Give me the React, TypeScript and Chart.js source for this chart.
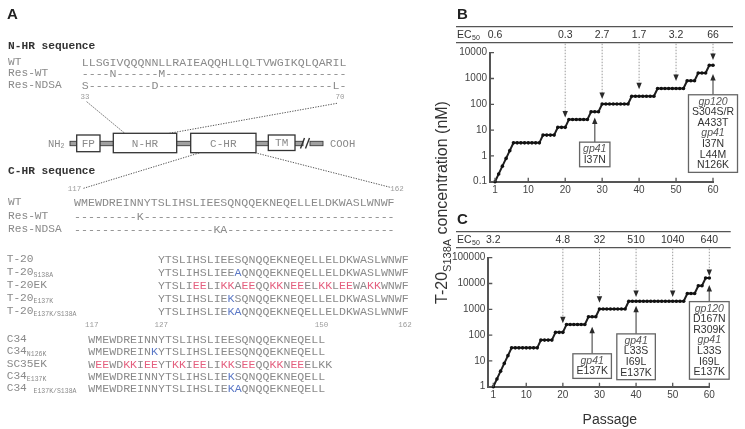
import React, { useEffect, useRef } from 'react';
import { Chart, registerables } from 'chart.js';

Chart.register(...registerables);

// ---------- data ----------
const passages = [
  1, 2, 3, 4, 5, 6, 7, 8, 9, 10, 11, 12, 13, 14, 15, 16, 17, 18, 19, 20,
  21, 22, 23, 24, 25, 26, 27, 28, 29, 30, 31, 32, 33, 34, 35, 36, 37, 38, 39, 40,
  41, 42, 43, 44, 45, 46, 47, 48, 49, 50, 51, 52, 53, 54, 55, 56, 57, 58, 59, 60,
];
const concB = [
  0.1, 0.2, 0.4, 0.8, 1.6, 3.2, 3.2, 3.2, 3.2, 3.2, 3.2, 3.2, 3.2, 6.4, 6.4, 6.4, 6.4, 12.8, 12.8, 12.8,
  25.6, 25.6, 25.6, 25.6, 25.6, 25.6, 51.2, 51.2, 51.2, 102.4, 102.4, 102.4, 102.4, 102.4, 102.4, 102.4, 102.4, 204.8, 204.8, 204.8,
  204.8, 204.8, 204.8, 204.8, 409.6, 409.6, 409.6, 409.6, 409.6, 409.6, 409.6, 409.6, 819.2, 819.2, 819.2, 1638.4, 1638.4, 1638.4, 3276.8, 3276.8,
];
const concC = [
  1, 2, 4, 8, 16, 32, 32, 32, 32, 32, 32, 32, 32, 64, 64, 64, 64, 128, 128, 128,
  256, 256, 256, 256, 256, 256, 512, 512, 512, 1024, 1024, 1024, 1024, 1024, 1024, 1024, 1024, 2048, 2048, 2048,
  2048, 2048, 2048, 2048, 2048, 2048, 2048, 2048, 2048, 2048, 2048, 2048, 2048, 4096, 4096, 4096, 8192, 8192, 16384, 16384,
];
const xTickValues = [1, 10, 20, 30, 40, 50, 60];
const yTicksB = [0.1, 1, 10, 100, 1000, 10000];
const yTicksC = [1, 10, 100, 1000, 10000, 100000];

const ecPassages = [1, 20, 30, 40, 50, 60];
const ecB = ['0.6', '0.3', '2.7', '1.7', '3.2', '66'];
const ecC = ['3.2', '4.8', '32', '510', '1040', '640'];
const ecArrowPassages = [20, 30, 40, 50, 60];
const ecArrowTipB = [31, 160, 380, 800, 5200];
const ecArrowTipC = [286, 1800, 3000, 3000, 19500];

const mutPassagesB = [28, 60];
const mutTipB = [31, 1490];
const mutBaseB = [0.38, 0.23];
const mutLinesB = [
  ['gp41', 'I37N'],
  ['gp120', 'S304S/R', 'A433T', 'gp41', 'I37N', 'L44M', 'N126K'],
];
const mutPassagesC = [28, 40, 60];
const mutTipC = [212, 1380, 8750];
const mutBaseC = [2.1, 1.87, 1.95];
const mutLinesC = [
  ['gp41', 'E137K'],
  ['gp41', 'L33S', 'I69L', 'E137K'],
  ['gp120', 'D167N', 'R309K', 'gp41', 'L33S', 'I69L', 'E137K'],
];
const italicLabels = ['gp41', 'gp120'];

// panel A sequences
const nhrLabels = ['WT', 'Res-WT', 'Res-NDSA'];
const nhrSeqs = [
  'LLSGIVQQQNNLLRAIEAQQHLLQLTVWGIKQLQARIL',
  '----N------M--------------------------',
  'S---------D-------------------------L-',
];
const chrLabels = ['WT', 'Res-WT', 'Res-NDSA'];
const chrSeqs = [
  'WMEWDREINNYTSLIHSLIEESQNQQEKNEQELLELDKWASLWNWF',
  '---------K------------------------------------',
  '--------------------KA------------------------',
];
const t20Labels = [['T-20', ''], ['T-20', 'S138A'], ['T-20EK', ''], ['T-20', 'E137K'], ['T-20', 'E137K/S138A']];
const t20Seqs = [
  'YTSLIHSLIEESQNQQEKNEQELLELDKWASLWNWF',
  'YTSLIHSLIEEAQNQQEKNEQELLELDKWASLWNWF',
  'YTSLIEELIKKAEEQQKKNEEELKKLEEWAKKWNWF',
  'YTSLIHSLIEKSQNQQEKNEQELLELDKWASLWNWF',
  'YTSLIHSLIEKAQNQQEKNEQELLELDKWASLWNWF',
];
const t20Red = [[], [], [5, 6, 9, 10, 12, 13, 16, 17, 19, 20, 23, 24, 26, 27, 30, 31], [], []];
const t20Blue = [[], [11], [], [10], [10, 11]];
const c34Labels = [['C34', ''], ['C34', 'N126K'], ['SC35EK', ''], ['C34', 'E137K'], ['C34 ', 'E137K/S138A']];
const c34Seqs = [
  'WMEWDREINNYTSLIHSLIEESQNQQEKNEQELL',
  'WMEWDREINKYTSLIHSLIEESQNQQEKNEQELL',
  'WEEWDKKIEEYTKKIEELIKKSEEQQKKNEEELKK',
  'WMEWDREINNYTSLIHSLIEKSQNQQEKNEQELL',
  'WMEWDREINNYTSLIHSLIEKAQNQQEKNEQELL',
];
const c34Red = [[], [], [1, 2, 5, 6, 8, 9, 12, 13, 15, 16, 19, 20, 22, 23, 26, 27, 29, 30], [], []];
const c34Blue = [[], [9], [], [20], [20, 21]];
const residueMarks = [117, 127, 150, 162];

// ---------- styles ----------
const SANS = '"Liberation Sans", Arial, sans-serif';
const MONO = '"Liberation Mono", "Courier New", monospace';
const SEQ_GRAY = '#8a8a8a';
const NUM_GRAY = '#9c9c9c';
const RED = '#e4607f';
const BLUE = '#5b78c6';
const CW = 6.96;

function makeAnnot(p: any) {
  return {
    id: 'annot' + p.name,
    afterDraw(chart: any) {
      const { ctx, chartArea: a, scales } = chart;
      const x = scales.x;
      const y = scales.y;
      const head = (px: number, ty: number, dir: number) => {
        ctx.fillStyle = '#2a2a2a';
        ctx.beginPath();
        ctx.moveTo(px, ty);
        ctx.lineTo(px - 2.7, ty - dir * 6.5);
        ctx.lineTo(px + 2.7, ty - dir * 6.5);
        ctx.closePath();
        ctx.fill();
      };
      ctx.save();
      // inner tick marks
      ctx.strokeStyle = '#555';
      ctx.lineWidth = 1.3;
      ctx.setLineDash([]);
      ctx.beginPath();
      for (const v of p.yTicks) {
        const py = y.getPixelForValue(v);
        ctx.moveTo(a.left, py);
        ctx.lineTo(a.left + 4, py);
      }
      for (const v of xTickValues) {
        const px = x.getPixelForValue(v);
        ctx.moveTo(px, a.bottom);
        ctx.lineTo(px, a.bottom - 4);
      }
      ctx.stroke();

      // EC50 row
      const yTop = a.top - 26;
      const yBot = a.top - 10;
      const yMid = (yTop + yBot) / 2;
      ctx.strokeStyle = '#555';
      ctx.lineWidth = 1.2;
      ctx.beginPath();
      ctx.moveTo(p.rowLeft, yTop);
      ctx.lineTo(p.rowRight, yTop);
      ctx.moveTo(p.rowLeft, yBot);
      ctx.lineTo(p.rowRight, yBot);
      ctx.stroke();
      ctx.fillStyle = '#333';
      ctx.textBaseline = 'middle';
      ctx.textAlign = 'left';
      ctx.font = `10.5px ${SANS}`;
      ctx.fillText('EC', p.rowLeft + 1, yMid);
      const w = ctx.measureText('EC').width;
      ctx.font = `7px ${SANS}`;
      ctx.fillText('50', p.rowLeft + 1.5 + w, yMid + 3);
      ctx.font = `10.5px ${SANS}`;
      ctx.textAlign = 'center';
      ecPassages.forEach((pp, i) => ctx.fillText(p.ec[i], x.getPixelForValue(pp), yMid));

      // dotted arrows
      ecArrowPassages.forEach((pp, i) => {
        const px = x.getPixelForValue(pp);
        const ty = y.getPixelForValue(p.ecTips[i]);
        ctx.strokeStyle = '#9a9a9a';
        ctx.lineWidth = 1;
        ctx.setLineDash([1.5, 1.5]);
        ctx.beginPath();
        ctx.moveTo(px, yBot + 1);
        ctx.lineTo(px, ty - 5);
        ctx.stroke();
        ctx.setLineDash([]);
        head(px, ty, 1);
      });

      // mutation boxes
      p.mutPassages.forEach((pp: number, i: number) => {
        const lines: string[] = p.mutLines[i];
        let mw = 0;
        lines.forEach((t) => {
          ctx.font = `${italicLabels.includes(t) ? 'italic ' : ''}10.5px ${SANS}`;
          mw = Math.max(mw, ctx.measureText(t).width);
        });
        const lh = 10.6;
        const bw = mw + 7;
        const bh = (lines.length - 1) * lh + 14;
        const cx = x.getPixelForValue(pp);
        const bottom = y.getPixelForValue(p.mutBase[i]);
        const top = bottom - bh;
        const tip = y.getPixelForValue(p.mutTips[i]);
        ctx.strokeStyle = '#777';
        ctx.lineWidth = 1.5;
        ctx.beginPath();
        ctx.moveTo(cx, top);
        ctx.lineTo(cx, tip + 5);
        ctx.stroke();
        head(cx, tip, -1);
        ctx.fillStyle = '#fff';
        ctx.fillRect(cx - bw / 2, top, bw, bh);
        ctx.strokeStyle = '#666';
        ctx.lineWidth = 1.3;
        ctx.strokeRect(cx - bw / 2, top, bw, bh);
        ctx.textAlign = 'center';
        ctx.textBaseline = 'middle';
        lines.forEach((t, k) => {
          const it = italicLabels.includes(t);
          ctx.font = `${it ? 'italic ' : ''}10.5px ${SANS}`;
          ctx.fillStyle = it ? '#555' : '#333';
          ctx.fillText(t, cx, top + 7 + k * lh);
        });
      });

      if (p.passageTitle) {
        ctx.fillStyle = '#333';
        ctx.font = `14px ${SANS}`;
        ctx.textAlign = 'center';
        ctx.textBaseline = 'middle';
        ctx.fillText('Passage', (a.left + a.right) / 2 + 11, a.bottom + 33);
      }
      ctx.restore();
    },
  };
}

function buildChart(canvas: HTMLCanvasElement, p: any) {
  return new Chart(canvas, {
    type: 'line',
    data: {
      datasets: [
        {
          data: passages.map((v, i) => ({ x: v, y: p.values[i] })),
          borderColor: '#1e1e1e',
          borderWidth: 2,
          pointRadius: 1.8,
          pointBackgroundColor: '#111',
          pointBorderWidth: 0,
          tension: 0,
          clip: false as any,
        },
      ],
    },
    options: {
      responsive: false,
      animation: false,
      devicePixelRatio: 1,
      layout: { padding: p.padding },
      plugins: { legend: { display: false }, tooltip: { enabled: false } },
      scales: {
        x: {
          type: 'linear',
          min: p.xMin,
          max: 60,
          grid: { display: false, drawTicks: false },
          border: { display: true, color: '#555', width: 2 },
          ticks: { color: '#444', font: { family: SANS, size: 10 }, padding: 3, autoSkip: false, maxRotation: 0 },
          afterBuildTicks: (s: any) => {
            s.ticks = xTickValues.map((v) => ({ value: v }));
          },
          afterFit: (s: any) => {
            s.height = 16;
          },
        },
        y: {
          type: 'logarithmic',
          min: p.yTicks[0],
          max: p.yTicks[p.yTicks.length - 1],
          grid: { display: false, drawTicks: false },
          border: { display: true, color: '#555', width: 2 },
          ticks: {
            color: '#444',
            font: { family: SANS, size: 10 },
            padding: 3,
            autoSkip: false,
            callback: (v: any) => String(v),
          },
          afterBuildTicks: (s: any) => {
            s.ticks = p.yTicks.map((v: number) => ({ value: v }));
          },
          afterFit: (s: any) => {
            s.width = 40;
          },
        },
      },
    } as any,
    plugins: [makeAnnot(p)],
  });
}

function SeqText({ x, y, seq, red = [], blue = [] }: any) {
  return (
    <text x={x} y={y} fontFamily={MONO} fontSize={11.6} fill={SEQ_GRAY} dominantBaseline="central">
      {seq.split('').map((ch: string, i: number) => (
        <tspan key={i} fill={red.includes(i) ? RED : blue.includes(i) ? BLUE : SEQ_GRAY}>
          {ch}
        </tspan>
      ))}
    </text>
  );
}

function Label({ x, y, main, sub }: any) {
  return (
    <text x={x} y={y} fontFamily={MONO} fontSize={11.2} fill={SEQ_GRAY} dominantBaseline="central" style={{ whiteSpace: 'pre' }}>
      {main}
      {sub ? (
        <tspan fontSize={6.5} dy={3}>
          {sub}
        </tspan>
      ) : null}
    </text>
  );
}

function PanelA() {
  const nhrY = [61.7, 72.7, 85];
  const chrY = [202.3, 216, 229.3];
  const blockX = 88.3;
  const dot = { stroke: '#444', strokeWidth: 0.9, strokeDasharray: '1.3 1.3', fill: 'none' };
  const box = { fill: '#fff', stroke: '#333', strokeWidth: 1.3 };
  const boxText = { fontFamily: MONO, fontSize: 11, fill: SEQ_GRAY, textAnchor: 'middle' as const, dominantBaseline: 'central' as const };
  const num = { fontFamily: MONO, fontSize: 7.5, fill: NUM_GRAY, textAnchor: 'middle' as const, dominantBaseline: 'central' as const };
  return (
    <g>
      <text x={7} y={13.5} fontFamily={SANS} fontWeight="bold" fontSize={15} fill="#222" dominantBaseline="central">A</text>
      <text x={8} y={46} fontFamily={MONO} fontWeight="bold" fontSize={11.2} fill="#333" dominantBaseline="central">N-HR sequence</text>
      {nhrLabels.map((l, i) => (
        <Label key={'nl' + i} x={8} y={nhrY[i]} main={l} />
      ))}
      {nhrSeqs.map((s, i) => (
        <SeqText key={'ns' + i} x={81.7} y={nhrY[i]} seq={s} />
      ))}
      <text x={85} y={96.7} {...num}>33</text>
      <text x={340} y={96.7} {...num}>70</text>
      <line x1={86.7} y1={101.7} x2={125} y2={133.5} {...dot} />
      <line x1={337} y1={103.3} x2={168.3} y2={133.5} {...dot} />

      {/* protein diagram */}
      <text x={48} y={143.5} fontFamily={MONO} fontSize={10.5} fill={SEQ_GRAY} dominantBaseline="central">
        NH<tspan fontSize={6.5} dy={2}>2</tspan>
      </text>
      <rect x={70} y={141.3} width={233} height={4.4} fill="#a0a0a0" stroke="#3a3a3a" strokeWidth={0.9} />
      <rect x={310} y={141.3} width={13} height={4.4} fill="#a0a0a0" stroke="#3a3a3a" strokeWidth={0.9} />
      <line x1={300.5} y1={148.5} x2={304.5} y2={138} stroke="#333" strokeWidth={1.4} />
      <line x1={305.5} y1={148.5} x2={309.5} y2={138} stroke="#333" strokeWidth={1.4} />
      <text x={330} y={143.5} fontFamily={MONO} fontSize={10.5} fill={SEQ_GRAY} dominantBaseline="central">COOH</text>
      <rect x={76.7} y={135} width={23.3} height={16.7} {...box} />
      <text x={88.3} y={143.5} {...boxText}>FP</text>
      <rect x={113.3} y={133.3} width={63.4} height={19.4} {...box} />
      <text x={145} y={143.5} {...boxText}>N-HR</text>
      <rect x={190.7} y={133.3} width={65.3} height={19.4} {...box} />
      <text x={223.3} y={143.5} {...boxText}>C-HR</text>
      <rect x={268.3} y={135} width={26.7} height={15.5} {...box} />
      <text x={281.7} y={142.8} {...boxText}>TM</text>

      <text x={8} y={170.7} fontFamily={MONO} fontWeight="bold" fontSize={11.2} fill="#333" dominantBaseline="central">C-HR sequence</text>
      <line x1={83.5} y1={188.3} x2={200} y2={152.7} {...dot} />
      <line x1={255} y1={152.7} x2={391} y2={187.5} {...dot} />
      <text x={74.5} y={189} {...num}>117</text>
      <text x={397} y={189} {...num}>162</text>
      {chrLabels.map((l, i) => (
        <Label key={'cl' + i} x={8} y={chrY[i]} main={l} />
      ))}
      {chrSeqs.map((s, i) => (
        <SeqText key={'cs' + i} x={74} y={chrY[i]} seq={s} />
      ))}

      {t20Labels.map((l, i) => (
        <Label key={'tl' + i} x={6.7} y={258.5 + i * 13.2} main={l[0]} sub={l[1]} />
      ))}
      {t20Seqs.map((s, i) => (
        <SeqText key={'ts' + i} x={blockX + 10 * CW} y={258.5 + i * 13.2} seq={s} red={t20Red[i]} blue={t20Blue[i]} />
      ))}
      {residueMarks.map((r) => (
        <text key={'r' + r} x={blockX + (r - 117 + 0.5) * CW} y={325} {...num}>
          {r}
        </text>
      ))}
      {c34Labels.map((l, i) => (
        <Label key={'c3l' + i} x={6.7} y={339 + i * 12.35} main={l[0]} sub={l[1]} />
      ))}
      {c34Seqs.map((s, i) => (
        <SeqText key={'c3s' + i} x={blockX} y={339 + i * 12.35} seq={s} red={c34Red[i]} blue={c34Blue[i]} />
      ))}
    </g>
  );
}

export default function App() {
  const bRef = useRef<HTMLCanvasElement>(null);
  const cRef = useRef<HTMLCanvasElement>(null);
  useEffect(() => {
    const chartB = buildChart(bRef.current!, {
      name: 'B',
      values: concB,
      yTicks: yTicksB,
      xMin: -0.353,
      padding: { left: 20, right: 32, top: 52.7, bottom: 7.3 },
      rowLeft: 26,
      rowRight: 303,
      ec: ecB,
      ecTips: ecArrowTipB,
      mutPassages: mutPassagesB,
      mutTips: mutTipB,
      mutBase: mutBaseB,
      mutLines: mutLinesB,
      passageTitle: false,
    });
    const chartC = buildChart(cRef.current!, {
      name: 'C',
      values: concC,
      yTicks: yTicksC,
      xMin: -0.366,
      padding: { left: 18.3, right: 35.7, top: 52.7, bottom: 26.3 },
      rowLeft: 26,
      rowRight: 300.7,
      ec: ecC,
      ecTips: ecArrowTipC,
      mutPassages: mutPassagesC,
      mutTips: mutTipC,
      mutBase: mutBaseC,
      mutLines: mutLinesC,
      passageTitle: true,
    });
    return () => {
      chartB.destroy();
      chartC.destroy();
    };
  }, []);

  return (
    <div style={{ position: 'fixed', left: 0, top: 0, width: 745, height: 429, background: '#fff', overflow: 'hidden' }}>
      <svg width={745} height={429} style={{ position: 'absolute', left: 0, top: 0, willChange: 'transform' }}>
        <PanelA />
        <text x={457} y={13} fontFamily={SANS} fontWeight="bold" fontSize={15} fill="#222" dominantBaseline="central">B</text>
        <text x={457} y={218} fontFamily={SANS} fontWeight="bold" fontSize={15} fill="#222" dominantBaseline="central">C</text>
        <text transform="translate(447,202.5) rotate(-90)" textAnchor="middle" fontFamily={SANS} fontSize={16} fill="#333">
          T-20<tspan fontSize={11} dy={4}>S138A</tspan>
          <tspan dy={-4}> concentration (nM)</tspan>
        </text>
      </svg>
      <canvas ref={bRef} width={315} height={205} style={{ position: 'absolute', left: 430, top: 0, width: 315, height: 205 }} />
      <canvas ref={cRef} width={315} height={224} style={{ position: 'absolute', left: 430, top: 205, width: 315, height: 224 }} />
    </div>
  );
}
